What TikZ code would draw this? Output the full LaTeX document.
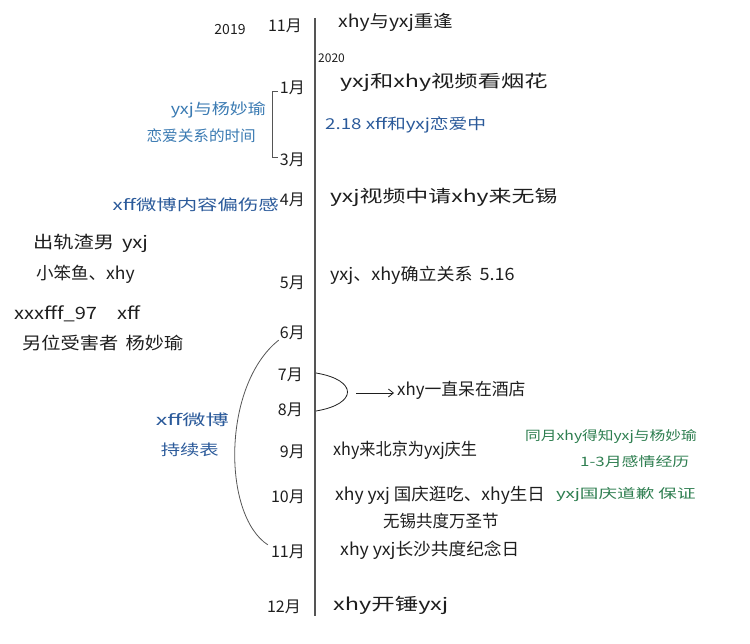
\documentclass[tikz,border=0pt]{standalone}
\usepackage{fontspec}
\setmainfont{Noto Sans CJK SC}
\usetikzlibrary{arrows.meta}
\definecolor{ink}{HTML}{1E1E1E}
\definecolor{blueink}{HTML}{2B5A9A}
\definecolor{lblue}{HTML}{3A7AB2}
\definecolor{greenink}{HTML}{2E7E50}
\definecolor{axisgray}{HTML}{555555}
\newcommand{\hsc}[2]{\scalebox{#1}[1]{#2}}
\begin{document}
\begin{tikzpicture}[x=1pt,y=-1pt,
  txt/.style={anchor=west, inner sep=0pt, font=\fontsize{17}{19}\selectfont, text=ink},
  mon/.style={anchor=east, inner sep=0pt, font=\fontsize{16}{18}\selectfont, text=ink},
  note/.style={anchor=west, inner sep=0pt, font=\fontsize{15}{17}\selectfont, text=blueink},
  gnote/.style={anchor=west, inner sep=0pt, font=\fontsize{13}{15}\selectfont, text=greenink},
  thin/.style={draw=ink, line width=0.8pt},
  axisline/.style={draw=axisgray, line width=2pt}
]
\useasboundingbox (0,0) rectangle (750,644);

% axis
\coordinate (top) at (315,18);
\coordinate (bot) at (315,616);
\draw[axisline] (top) -- (bot);

% 2019
\node[anchor=center, inner sep=0pt, font=\fontsize{14}{16}\selectfont, text=ink] (y2019) at (230,30) {2019};
\node[mon] (m11a) at (302,26) {11月};
\node[txt] (e1) at (338,22) {\hsc{1.14}{xhy与yxj重逢}};
\node[anchor=west, inner sep=0pt, font=\fontsize{12}{14}\selectfont, text=ink] (y2020) at (318,58) {2020};

% 1-3
\node[mon] (m1) at (305,88) {1月};
\node[txt] (e2) at (340,82) {\hsc{1.37}{yxj和xhy视频看烟花}};
\node[note] (e3) at (325,125) {\hsc{1.25}{2.18 xff和yxj恋爱中}};
\node[mon] (m3) at (305,160) {3月};
\coordinate (bt) at (272,92);
\coordinate (bb) at (272,158);
\draw[draw=axisgray, line width=1pt] ([xshift=-2pt]m1.west |- bt) -- (bt) -- (bb) -- ([xshift=-2pt]m3.west |- bb);
\node[anchor=east, inner sep=0pt, font=\fontsize{15}{17}\selectfont, text=lblue] (l1) at (266,110) {\hsc{1.2}{yxj与杨妙瑜}};
\node[anchor=east, inner sep=0pt, font=\fontsize{15}{17}\selectfont, text=lblue] (l2) at (256,136) {\hsc{1.04}{恋爱关系的时间}};

% 4
\node[note, anchor=east] (l3) at (279,205) {\hsc{1.36}{xff微博内容偏伤感}};
\node[mon] (m4) at (305,200) {4月};
\node[txt] (e4) at (330,197) {\hsc{1.35}{yxj视频中请xhy来无锡}};

% left black notes
\node[txt] (k1) at (33,243) {\hsc{1.19}{出轨渣男\, yxj}};
\node[txt] (k2) at (36,274) {\hsc{1.03}{小笨鱼、xhy}};
\node[txt] (k3) at (14,314) {\hsc{1.18}{xxxfff\_97\quad xff}};
\node[txt] (k4) at (22,343) {\hsc{1.13}{另位受害者\, 杨妙瑜}};

% 5
\node[mon] (m5) at (305,283) {5月};
\node[txt] (e5) at (330,275) {\hsc{1.06}{yxj、xhy确立关系\, 5.16}};

% 6-8
\node[mon] (m6) at (305,333) {6月};
\node[mon] (m7) at (303,375) {7月};
\node[mon] (m8) at (303,410) {8月};
\coordinate (c7) at (316,373);
\coordinate (c8) at (316,411);
\draw[thin] (c7) .. controls (358,380) and (358,404) .. (c8);
\coordinate (arrS) at (356,393);
\node[txt] (e6) at (397,390) {\hsc{0.99}{xhy一直呆在酒店}};
\draw[thin, -{Straight Barb[length=5pt,width=8pt]}] (arrS) -- ([xshift=-3pt]e6.west |- arrS);

% arc 6 -> 11
\node[mon] (m9) at (305,452) {9月};
\node[mon] (m10) at (305,497) {10月};
\node[mon] (m11) at (305,552) {11月};
\draw[draw=axisgray, line width=0.8pt] ([xshift=-1pt]m6.south west) .. controls (222,385) and (222,515) .. ([xshift=-3pt]m11.north west);
\node[note, anchor=east] (l4) at (229,420) {\hsc{1.55}{xff微博}};
\node[note, anchor=east] (l5) at (219,450) {\hsc{1.29}{持续表}};

% 9
\node[txt] (e7) at (333,450) {\hsc{0.95}{xhy来北京为yxj庆生}};
\node[gnote] (g1) at (525,437) {\hsc{1.21}{同月xhy得知yxj与杨妙瑜}};
\node[gnote] (g2) at (580,462) {\hsc{1.3}{1-3月感情经历}};

% 10
\node[txt] (e8) at (335,495) {\hsc{1.03}{xhy\ yxj\ 国庆逛吃、xhy生日}};
\node[txt] (e9) at (383,521) {\hsc{0.97}{无锡共度万圣节}};
\node[gnote] (g3) at (556,495) {\hsc{1.43}{yxj国庆道歉\ 保证}};

% 11
\node[txt] (e10) at (340,550) {\hsc{1.04}{xhy\ yxj长沙共度纪念日}};

% 12
\node[mon] (m12) at (301,607) {12月};
\node[txt] (e11) at (333,605) {\hsc{1.38}{xhy开锤yxj}};
\end{tikzpicture}
\end{document}
